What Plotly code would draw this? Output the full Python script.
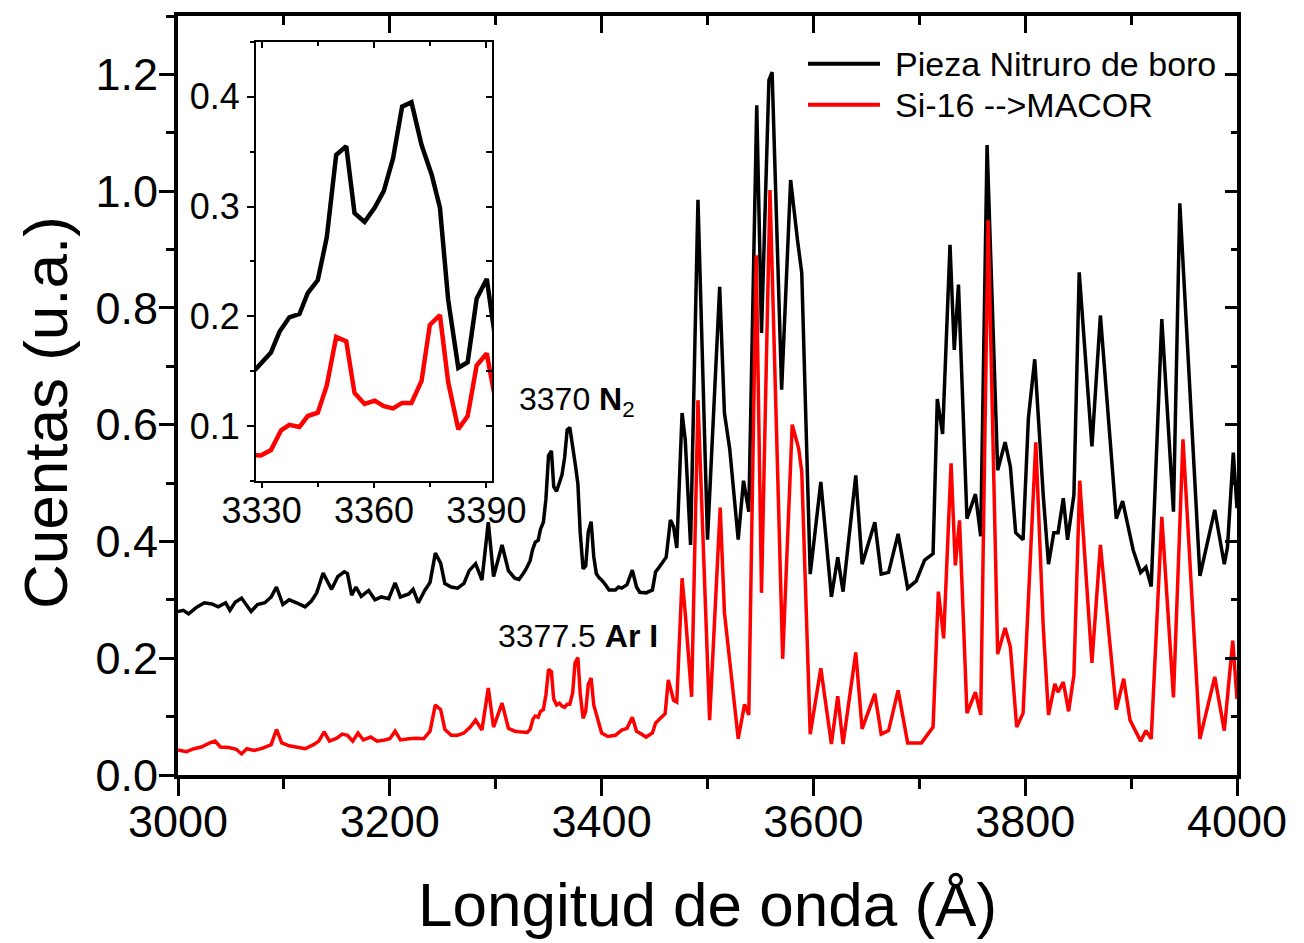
import plotly.graph_objects as go

# ---------------- data ----------------
# Wavelength (Angstrom) and counts of the black series "Pieza Nitruro de boro"
# (raw counts as shown in the inset; the main panel shows them shifted up by black_offset)
wl_black = [
    3000, 3005, 3010, 3018, 3025, 3032, 3038, 3045, 3049, 3054, 3060, 3064, 3069, 3075,
    3082, 3088, 3093, 3099, 3105, 3112, 3120, 3126, 3131, 3137, 3142, 3145, 3151, 3157,
    3160, 3164, 3168, 3173, 3180, 3186, 3192, 3199, 3205, 3210, 3218, 3222, 3227, 3233,
    3238, 3243, 3248, 3252, 3258, 3264, 3270, 3275, 3281, 3287, 3293, 3298, 3306, 3312,
    3318, 3322, 3326,
    3328.5, 3332.5, 3334.8, 3337.4, 3340.1, 3342.3, 3345.0, 3347.4, 3349.9, 3352.6,
    3354.8, 3357.5, 3360.2, 3362.6, 3365.1, 3367.5, 3370.0, 3372.7, 3375.4, 3377.6,
    3379.8, 3382.5, 3385.0, 3387.4, 3390.1, 3392.6,
    3395, 3397.5, 3400, 3404, 3407, 3413, 3416, 3419, 3424, 3429, 3433, 3436, 3442, 3448,
    3451, 3454, 3458, 3461, 3465, 3468, 3471, 3476, 3479, 3484, 3491, 3500, 3511.5, 3516,
    3521, 3524, 3529, 3534, 3539, 3546.5, 3551, 3558, 3561, 3570, 3578.5, 3585, 3587, 3589,
    3597, 3607, 3617, 3623, 3628, 3640, 3646, 3658, 3664, 3671, 3680, 3689, 3697, 3705,
    3713, 3717, 3722, 3729, 3733, 3737, 3745, 3753, 3758, 3764, 3774, 3781, 3786, 3791,
    3798, 3803, 3809, 3817, 3822, 3827, 3831, 3836, 3840, 3846, 3851, 3863, 3871, 3886,
    3892, 3896, 3902, 3909, 3914, 3919, 3929, 3940, 3946, 3965, 3979, 3988, 3991, 3996.5,
    4000,
]
counts_black = [
    0.080, 0.082, 0.076, 0.088, 0.095, 0.093, 0.088, 0.095, 0.082, 0.096, 0.103, 0.092, 0.080, 0.092,
    0.095, 0.105, 0.122, 0.092, 0.100, 0.095, 0.088, 0.098, 0.112, 0.146, 0.130, 0.118, 0.140, 0.148,
    0.145, 0.108, 0.122, 0.106, 0.116, 0.100, 0.105, 0.102, 0.129, 0.105, 0.110, 0.118, 0.095, 0.116,
    0.130, 0.180, 0.163, 0.128, 0.122, 0.120, 0.128, 0.150, 0.162, 0.134, 0.233, 0.140, 0.194, 0.150,
    0.137, 0.135, 0.145,
    0.152, 0.167, 0.186, 0.199, 0.202, 0.221, 0.233, 0.272, 0.347, 0.355,
    0.294, 0.286, 0.299, 0.314, 0.344, 0.391, 0.395, 0.356, 0.329, 0.299,
    0.215, 0.153, 0.158, 0.216, 0.234, 0.174,
    0.145, 0.138, 0.134, 0.125, 0.117, 0.117, 0.122, 0.120, 0.126, 0.151, 0.122, 0.113, 0.112, 0.117,
    0.148, 0.155, 0.165, 0.173, 0.237, 0.225, 0.189, 0.420, 0.374, 0.194, 0.785, 0.203, 0.636, 0.420,
    0.358, 0.304, 0.203, 0.304, 0.251, 0.947, 0.557, 0.990, 1.004, 0.460, 0.819, 0.716, 0.685, 0.660,
    0.144, 0.302, 0.105, 0.173, 0.114, 0.313, 0.161, 0.233, 0.144, 0.147, 0.213, 0.120, 0.132, 0.168,
    0.179, 0.444, 0.384, 0.708, 0.528, 0.640, 0.239, 0.281, 0.209, 0.879, 0.322, 0.370, 0.328, 0.215,
    0.203, 0.411, 0.512, 0.280, 0.161, 0.215, 0.215, 0.274, 0.203, 0.280, 0.661, 0.363, 0.587, 0.239,
    0.269, 0.236, 0.185, 0.147, 0.156, 0.123, 0.581, 0.251, 0.779, 0.141, 0.254, 0.161, 0.190, 0.352,
    0.257,
]
black_offset = 0.2

# Red series "Si-16 -->MACOR"
wl_red = [
    3000, 3008, 3015, 3022, 3030, 3035, 3040, 3048, 3055, 3060, 3065, 3072, 3080, 3088,
    3093, 3098, 3105, 3112, 3120, 3128, 3133, 3138, 3143, 3150, 3155, 3160, 3165, 3170,
    3175, 3182, 3188, 3195, 3200, 3205, 3210, 3218, 3225, 3232, 3238, 3243, 3248, 3252,
    3258, 3264, 3270, 3276, 3281, 3287, 3293, 3298, 3306, 3312, 3318, 3322, 3326,
    3328.5, 3329.8, 3332.5, 3335.2, 3337.4, 3340.1, 3342.3, 3345.0, 3347.4, 3349.9,
    3352.6, 3354.8, 3357.5, 3360.2, 3362.6, 3365.1, 3367.5, 3370.0, 3372.7, 3374.9,
    3377.6, 3379.8, 3382.5, 3385.0, 3387.4, 3390.1, 3392.6,
    3396, 3400, 3406, 3413, 3419, 3424, 3429, 3433, 3436, 3442, 3448, 3451, 3456, 3460,
    3463, 3468, 3471, 3476, 3479, 3485, 3491, 3502, 3512, 3516, 3521, 3529, 3535, 3539,
    3546, 3551, 3559, 3571, 3580, 3586, 3589, 3597, 3607, 3617, 3623, 3628, 3640, 3646,
    3658, 3664, 3671, 3680, 3689, 3702, 3713, 3718, 3723, 3730, 3734, 3738, 3745, 3753,
    3758, 3765, 3774, 3781, 3786, 3792, 3798, 3810, 3817, 3822, 3828, 3831, 3836, 3841,
    3846, 3851.5, 3863, 3871, 3886, 3893, 3899, 3909, 3914, 3919, 3929, 3940, 3949, 3965,
    3979, 3988, 3996, 4000,
]
counts_red = [
    0.043, 0.040, 0.045, 0.048, 0.055, 0.058, 0.048, 0.047, 0.044, 0.036, 0.045, 0.042, 0.046, 0.052,
    0.078, 0.055, 0.050, 0.047, 0.045, 0.052, 0.058, 0.074, 0.058, 0.063, 0.070, 0.068, 0.058, 0.072,
    0.060, 0.065, 0.058, 0.060, 0.062, 0.075, 0.060, 0.062, 0.063, 0.062, 0.075, 0.120, 0.112, 0.078,
    0.068, 0.068, 0.072, 0.082, 0.094, 0.077, 0.149, 0.082, 0.123, 0.080, 0.075, 0.074, 0.073,
    0.073, 0.073, 0.078, 0.096, 0.101, 0.099, 0.109, 0.112, 0.137, 0.181,
    0.177, 0.130, 0.120, 0.123, 0.118, 0.116, 0.121, 0.121, 0.141, 0.192,
    0.201, 0.140, 0.097, 0.109, 0.155, 0.166, 0.120,
    0.100, 0.072, 0.066, 0.068, 0.077, 0.080, 0.099, 0.075, 0.072, 0.065, 0.072, 0.089, 0.098, 0.105,
    0.163, 0.128, 0.125, 0.337, 0.277, 0.134, 0.642, 0.094, 0.458, 0.278, 0.195, 0.062, 0.121, 0.103,
    0.890, 0.312, 1.002, 0.199, 0.600, 0.560, 0.520, 0.070, 0.183, 0.053, 0.135, 0.053, 0.210, 0.079,
    0.139, 0.070, 0.076, 0.145, 0.055, 0.055, 0.082, 0.314, 0.234, 0.534, 0.359, 0.436, 0.106, 0.142,
    0.103, 0.950, 0.207, 0.252, 0.219, 0.082, 0.106, 0.570, 0.255, 0.103, 0.156, 0.142, 0.159, 0.109,
    0.171, 0.504, 0.192, 0.394, 0.112, 0.165, 0.094, 0.058, 0.076, 0.062, 0.442, 0.133, 0.575, 0.062,
    0.168, 0.076, 0.230, 0.130,
]

series_names = ["Pieza Nitruro de boro", "Si-16 -->MACOR"]
series_colors = ["#000000", "#ff0000"]

main_x_range = [3000, 4000]
main_y_range = [0, 1.3]
inset_x_range = [3328.5, 3391.5]
inset_y_range = [0.05, 0.45]

x_title = "Longitud de onda (Å)"
y_title = "Cuentas (u.a.)"
label_n2 = "3370 <b>N</b><sub>2</sub>"
label_ar = "3377.5 <b>Ar I</b>"

# ---------------- figure ----------------
W, H = 1304, 943
ML, MR, MT, MB = 178, 67, 14, 168
PW, PH = W - ML - MR, H - MT - MB

def px_x(p):
    return (p - ML) / PW

def px_y(p):
    return (H - MB - p) / PH

FONT = "Liberation Sans, Arial, sans-serif"

black_main = [v + black_offset for v in counts_black]

fig = go.Figure()
fig.add_trace(go.Scatter(x=wl_black, y=black_main, mode="lines", name=series_names[0],
                         line=dict(color=series_colors[0], width=3.5), xaxis="x", yaxis="y",
                         showlegend=False))
fig.add_trace(go.Scatter(x=wl_red, y=counts_red, mode="lines", name=series_names[1],
                         line=dict(color=series_colors[1], width=3.5), xaxis="x", yaxis="y",
                         showlegend=False))
# helper (empty) trace so mirrored tick axes are drawn
fig.add_trace(go.Scatter(x=[], y=[], xaxis="x2", yaxis="y2", showlegend=False, hoverinfo="skip"))
# inset
fig.add_trace(go.Scatter(x=wl_black, y=counts_black, mode="lines", showlegend=False,
                         line=dict(color=series_colors[0], width=4.5), xaxis="x3", yaxis="y3"))
fig.add_trace(go.Scatter(x=wl_red, y=counts_red, mode="lines", showlegend=False,
                         line=dict(color=series_colors[1], width=4.5), xaxis="x3", yaxis="y3"))
fig.add_trace(go.Scatter(x=[], y=[], xaxis="x4", yaxis="y4", showlegend=False, hoverinfo="skip"))

common = dict(showgrid=False, zeroline=False, color="black")

inset_dom_x = [px_x(256), px_x(492)]
inset_dom_y = [px_y(480), px_y(40)]

fig.update_layout(
    width=W, height=H,
    margin=dict(l=ML, r=MR, t=MT, b=MB, pad=0),
    paper_bgcolor="white", plot_bgcolor="white",
    font=dict(family=FONT, color="black"),
    xaxis=dict(domain=[0, 1], anchor="y", range=main_x_range, tick0=3000, dtick=200,
               ticks="outside", ticklen=17, tickwidth=3, tickcolor="black",
               showline=True, linewidth=4, linecolor="black", mirror=True,
               tickfont=dict(size=45, family=FONT), ticklabelstandoff=-13,
               minor=dict(ticks="outside", ticklen=10, tickwidth=3, dtick=100, tick0=3000,
                          tickcolor="black"),
               **common),
    xaxis2=dict(overlaying="x", side="top", anchor="y2", range=main_x_range, tick0=3000,
                dtick=200, ticks="inside", ticklen=17, tickwidth=3, tickcolor="black",
                showticklabels=False, showline=False,
                minor=dict(ticks="inside", ticklen=9, tickwidth=3, dtick=100, tick0=3000,
                           tickcolor="black"),
                **common),
    yaxis=dict(domain=[0, 1], anchor="x", range=main_y_range, tick0=0, dtick=0.2,
               tickformat=".1f", ticks="outside", ticklen=15, tickwidth=3, tickcolor="black",
               showline=True, linewidth=4, linecolor="black", mirror=True,
               tickfont=dict(size=45, family=FONT), ticklabelstandoff=-8,
               minor=dict(ticks="outside", ticklen=8, tickwidth=3, dtick=0.1, tick0=0,
                          tickcolor="black"),
               **common),
    yaxis2=dict(overlaying="y", side="right", anchor="x2", range=main_y_range, tick0=0,
                dtick=0.2, ticks="inside", ticklen=12, tickwidth=3, tickcolor="black",
                showticklabels=False, showline=False,
                minor=dict(ticks="inside", ticklen=6, tickwidth=3, dtick=0.1, tick0=0,
                           tickcolor="black"),
                **common),
    xaxis3=dict(domain=inset_dom_x, anchor="y3", range=inset_x_range, tick0=3330, dtick=30,
                ticks="outside", ticklen=5, tickwidth=2, tickcolor="black",
                showline=True, linewidth=2, linecolor="black", mirror=True,
                tickfont=dict(size=36, family=FONT), ticklabelstandoff=-8,
                minor=dict(ticks="outside", ticklen=4, tickwidth=2, dtick=15, tick0=3330,
                           tickcolor="black"),
                **common),
    xaxis4=dict(overlaying="x3", side="top", anchor="y4", range=inset_x_range, tick0=3330,
                dtick=30, ticks="inside", ticklen=6, tickwidth=2, tickcolor="black",
                showticklabels=False, showline=False,
                minor=dict(ticks="inside", ticklen=4, tickwidth=2, dtick=15, tick0=3330,
                           tickcolor="black"),
                **common),
    yaxis3=dict(domain=inset_dom_y, anchor="x3", range=inset_y_range, tick0=0, dtick=0.1,
                tickformat=".1f", ticks="outside", ticklen=7, tickwidth=2, tickcolor="black",
                showline=True, linewidth=2, linecolor="black", mirror=True,
                tickfont=dict(size=36, family=FONT), ticklabelstandoff=0,
                minor=dict(ticks="outside", ticklen=4, tickwidth=2, dtick=0.05, tick0=0,
                           tickcolor="black"),
                **common),
    yaxis4=dict(overlaying="y3", side="right", anchor="x4", range=inset_y_range, tick0=0,
                dtick=0.1, ticks="inside", ticklen=6, tickwidth=2, tickcolor="black",
                showticklabels=False, showline=False,
                minor=dict(ticks="inside", ticklen=6, tickwidth=2, dtick=0.05, tick0=0,
                           tickcolor="black"),
                **common),
    showlegend=False,
)

annotations = [
    dict(text=x_title, xref="paper", yref="paper", x=px_x(707), y=px_y(905),
         xanchor="center", yanchor="middle", showarrow=False,
         font=dict(size=62, family=FONT, color="black")),
    dict(text=y_title, xref="paper", yref="paper", x=px_x(46), y=px_y(412),
         xanchor="center", yanchor="middle", showarrow=False, textangle=-90,
         font=dict(size=62, family=FONT, color="black")),
    dict(text=label_n2, xref="x", yref="y", x=3320, y=0.639, xanchor="left",
         yanchor="middle", showarrow=False, font=dict(size=32, family=FONT, color="black")),
    dict(text=label_ar, xref="x", yref="y", x=3300, y=0.238, xanchor="left",
         yanchor="middle", showarrow=False, font=dict(size=32, family=FONT, color="black")),
]
# manual legend (long line samples as in the reference)
leg_rows_y = [62, 103]
shapes = []
for name, color, ry in zip(series_names, series_colors, leg_rows_y):
    shapes.append(dict(type="line", xref="paper", yref="paper", x0=px_x(808), x1=px_x(880),
                       y0=px_y(ry), y1=px_y(ry), line=dict(color=color, width=4)))
    annotations.append(dict(text=name, xref="paper", yref="paper", x=px_x(893), y=px_y(ry),
                            xanchor="left", yanchor="middle", showarrow=False,
                            font=dict(size=34, family=FONT, color="black")))

fig.update_layout(annotations=annotations, shapes=shapes)
fig.write_html("out.html", config={"displayModeBar": False},
               post_script="document.body.style.margin='0';document.body.style.padding='0';")
